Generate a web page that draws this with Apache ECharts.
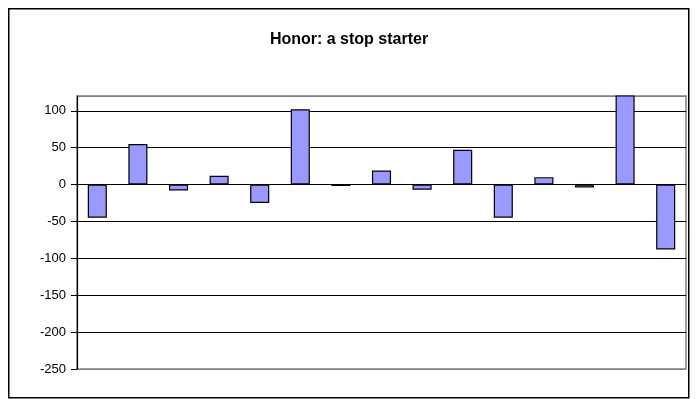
<!DOCTYPE html>
<html><head><meta charset="utf-8">
<script src="https://cdn.jsdelivr.net/npm/echarts@6/dist/echarts.min.js"></script>
<style>html,body{margin:0;padding:0;background:#fff}#c{width:698px;height:399px}</style>
</head><body><div id="c"></div>
<script>
const titleText = 'Honor: a stop starter';
const categories = ['1','2','3','4','5','6','7','8','9','10','11','12','13','14','15'];
const values = [-45, 55, -8, 12, -25, 102, -2, 19, -7, 47, -45, 10, -4, 150, -88];
const yMin = -250, yMax = 120, yStep = 50;

const chart = echarts.init(document.getElementById('c'), null, {renderer: 'canvas'});
chart.setOption({
  animation: false,
  backgroundColor: '#fff',
  graphic: [{
    type: 'rect', left: 8, top: 8, z: -10,
    shape: {width: 680, height: 389},
    style: {fill: '#fff', stroke: '#000', lineWidth: 1.5}
  }],
  title: {
    text: titleText, left: 'center', top: 27,
    textStyle: {fontFamily: 'Liberation Sans, Arial, sans-serif', fontWeight: 'bold', fontSize: 16, color: '#000'}
  },
  grid: {left: 77, right: 12, top: 96, bottom: 30, show: true, borderColor: '#808080', borderWidth: 1.5, backgroundColor: 'transparent'},
  xAxis: {
    type: 'category', data: categories,
    axisLine: {onZero: true, lineStyle: {color: '#000', width: 1.2}},
    axisTick: {show: false}, axisLabel: {show: false}, splitLine: {show: false}
  },
  yAxis: {
    type: 'value', min: yMin, max: yMax, interval: yStep,
    axisLine: {show: true, lineStyle: {color: '#000', width: 1.2}},
    axisTick: {show: true, length: 6, lineStyle: {color: '#000'}},
    axisLabel: {showMaxLabel: false, color: '#000', fontSize: 13, margin: 11,
      fontFamily: 'Liberation Sans, Arial, sans-serif'},
    splitLine: {show: true, lineStyle: {color: ['#808080','#000','#000','#000','#000','#000','#000','#000','#808080'], width: 1.2}}
  },
  series: [{
    type: 'bar', data: values, clip: true,
    barCategoryGap: '53%',
    itemStyle: {color: '#9999ff', borderColor: '#000', borderWidth: 1.2}
  }]
});
</script></body></html>
